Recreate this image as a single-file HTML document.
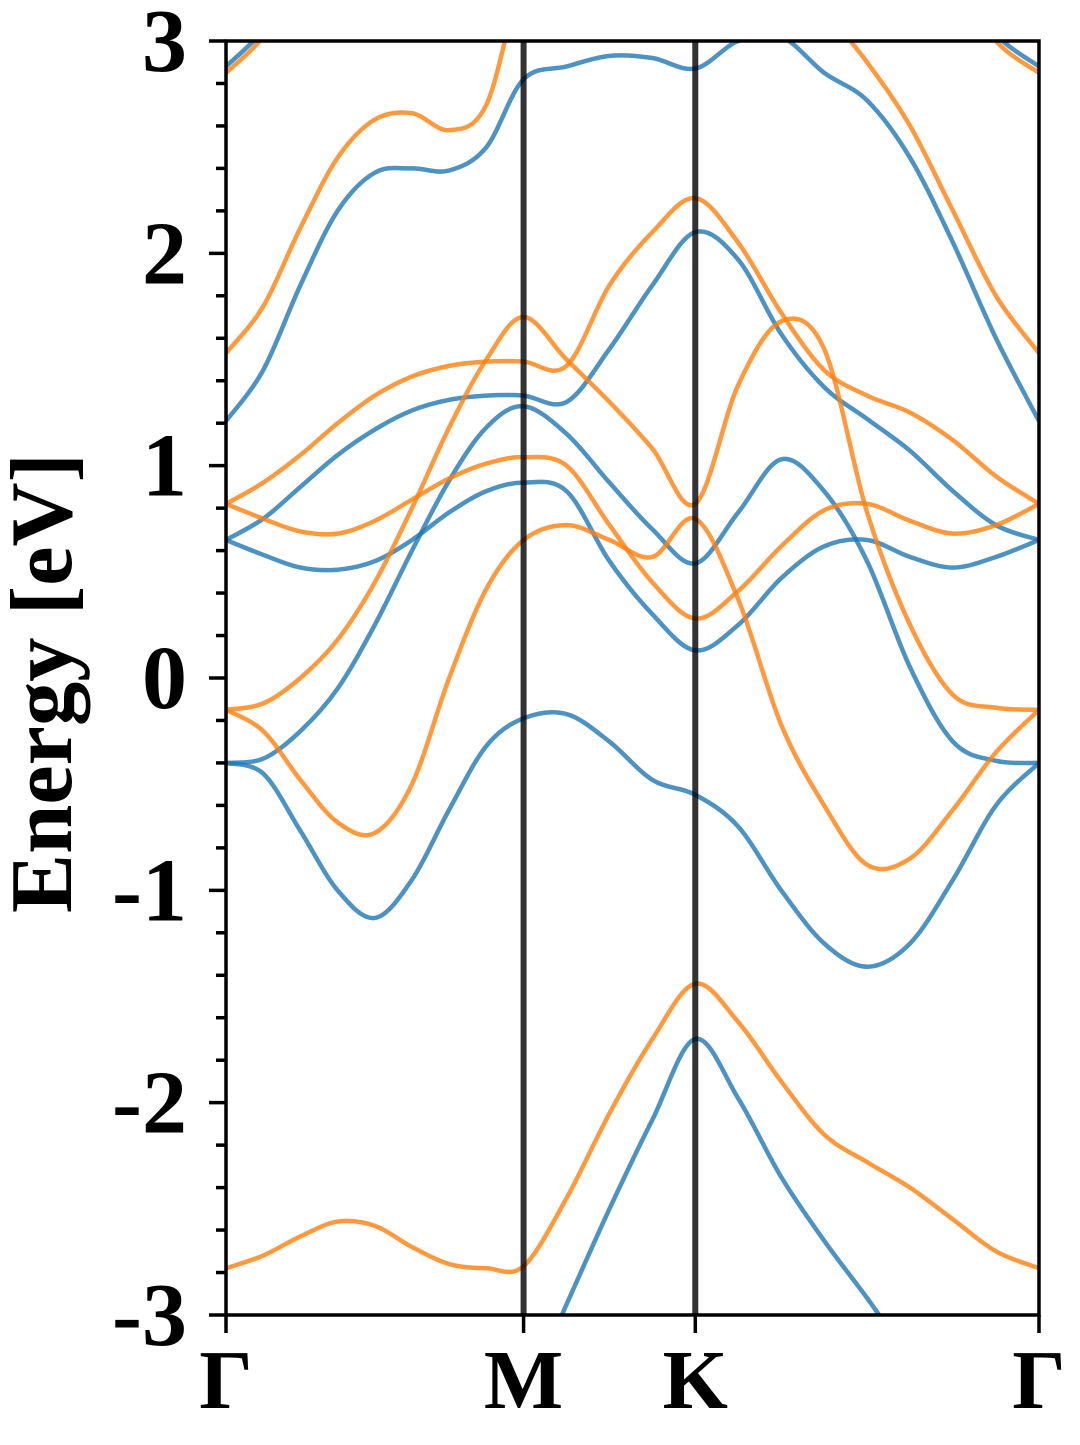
<!DOCTYPE html>
<html><head><meta charset="utf-8"><style>
html,body{margin:0;padding:0;background:#fff;}
svg text{font-family:"Liberation Serif","Times New Roman",serif;font-weight:bold;fill:#000;}
</style></head><body>
<svg id="chart" width="1080" height="1440" viewBox="0 0 1080 1440" xmlns="http://www.w3.org/2000/svg">
<defs><clipPath id="plotclip"><rect x="226" y="41" width="813" height="1274"/></clipPath></defs>
<g id="bands" clip-path="url(#plotclip)"></g>
<g id="axes"></g>
<text transform="translate(71,683) rotate(-90)" text-anchor="middle" font-size="88" textLength="460" lengthAdjust="spacingAndGlyphs" style="font-family:'Liberation Serif','Times New Roman',serif;font-weight:bold">Energy [eV]</text>
</svg>
<script>
const kGrid = [0,0.125,0.25,0.375,0.5,0.625,0.75,0.875,1,1.1443,1.2887,1.433,1.577,1.7213,1.8657,2.01,2.1543,2.2987,2.443,2.5873,2.732];
const kPoints = [0,1,1.577,2.732];
const kLabels = ["Γ","M","K","Γ"];
const yTicks = [-3,-2,-1,0,1,2,3];
const yTickLabels = ["-3","-2","-1","0","1","2","3"];
const blueB1 = [-3.6,-3.6,-3.6,-3.6,-3.6,-3.6,-3.6,-3.5,-3.4,-2.95,-2.5,-2.08,-1.70,-1.98,-2.35,-2.65,-2.92,-3.2,-3.4,-3.5,-3.6];
const blueB2 = [-0.40,-0.45,-0.72,-1.0,-1.13,-0.95,-0.62,-0.32,-0.19,-0.17,-0.30,-0.48,-0.55,-0.70,-1.00,-1.25,-1.36,-1.25,-0.95,-0.60,-0.40];
const blueB3 = [-0.40,-0.38,-0.25,-0.05,0.25,0.60,0.93,1.18,1.28,1.15,0.92,0.70,0.54,0.78,1.03,0.88,0.55,0.05,-0.30,-0.39,-0.40];
const blueB4 = [0.65,0.75,0.90,1.05,1.17,1.26,1.31,1.33,1.33,1.30,1.55,1.85,2.10,1.97,1.62,1.37,1.22,1.07,0.88,0.72,0.65];
const blueB5 = [0.65,0.58,0.52,0.51,0.55,0.65,0.78,0.88,0.92,0.88,0.55,0.30,0.13,0.25,0.47,0.62,0.65,0.57,0.52,0.57,0.65];
const blueB6 = [1.21,1.45,1.85,2.20,2.38,2.40,2.39,2.50,2.82,2.88,2.93,2.92,2.87,3.0,3.02,2.85,2.72,2.45,2.05,1.60,1.21];
const blueB7 = [2.88,3.05,3.3,3.5,3.6,3.6,3.6,3.6,3.6,3.6,3.6,3.6,3.6,3.6,3.6,3.6,3.6,3.5,3.3,3.03,2.88];
const orangeO1 = [-2.78,-2.72,-2.63,-2.56,-2.58,-2.68,-2.76,-2.78,-2.77,-2.45,-2.05,-1.70,-1.44,-1.62,-1.90,-2.15,-2.28,-2.40,-2.55,-2.70,-2.78];
const orangeO2 = [-0.15,-0.25,-0.48,-0.68,-0.73,-0.50,0.0,0.42,0.65,0.72,0.65,0.57,0.75,0.37,-0.22,-0.60,-0.88,-0.85,-0.62,-0.35,-0.15];
const orangeO3 = [-0.15,-0.12,0.0,0.18,0.45,0.80,1.18,1.50,1.70,1.50,1.30,1.08,0.82,1.38,1.68,1.55,0.78,0.25,-0.08,-0.14,-0.15];
const orangeO4 = [0.82,0.92,1.05,1.20,1.33,1.42,1.47,1.49,1.49,1.47,1.85,2.10,2.26,2.05,1.72,1.45,1.33,1.25,1.12,0.95,0.82];
const orangeO5 = [0.82,0.75,0.69,0.68,0.74,0.84,0.94,1.01,1.04,1.00,0.72,0.45,0.28,0.41,0.62,0.79,0.82,0.74,0.68,0.72,0.82];
const orangeO6 = [1.53,1.75,2.12,2.45,2.63,2.66,2.58,2.70,3.3,3.5,3.5,3.5,3.5,3.5,3.4,3.15,2.9,2.6,2.2,1.8,1.53];
const orangeO7 = [2.85,3.02,3.3,3.5,3.6,3.6,3.6,3.6,3.6,3.6,3.6,3.6,3.6,3.6,3.6,3.6,3.6,3.5,3.3,3.0,2.85];
const blueBands = [blueB1,blueB2,blueB3,blueB4,blueB5,blueB6,blueB7];
const orangeBands = [orangeO1,orangeO2,orangeO3,orangeO4,orangeO5,orangeO6,orangeO7];

const X0=226,X1=1039,Y0=1315,Y1=41;
const kMax = kPoints[kPoints.length-1];
const FONT="font-family:'Liberation Serif','Times New Roman',serif;font-weight:bold";
function xs(k){return X0+(k/kMax)*(X1-X0);}
function ys(e){return Y0-(e+3)/6*(Y0-Y1);}
const NS="http://www.w3.org/2000/svg";
function mk(tag,attrs,parent){const el=document.createElementNS(NS,tag);for(const a in attrs)el.setAttribute(a,attrs[a]);parent.appendChild(el);return el;}
function pathFor(vals){
  const p=vals.map((v,i)=>[xs(kGrid[i]),ys(v)]);
  let d="M"+p[0][0].toFixed(2)+","+p[0][1].toFixed(2);
  for(let i=0;i<p.length-1;i++){
    const p0=p[Math.max(0,i-1)],p1=p[i],p2=p[i+1],p3=p[Math.min(p.length-1,i+2)];
    const c1x=p1[0]+(p2[0]-p0[0])/6,c1y=p1[1]+(p2[1]-p0[1])/6;
    const c2x=p2[0]-(p3[0]-p1[0])/6,c2y=p2[1]-(p3[1]-p1[1])/6;
    d+=" C"+c1x.toFixed(2)+","+c1y.toFixed(2)+" "+c2x.toFixed(2)+","+c2y.toFixed(2)+" "+p2[0].toFixed(2)+","+p2[1].toFixed(2);
  }
  return d;
}
const gB=document.getElementById("bands");
blueBands.forEach((b,i)=>{
  const el=mk("path",{d:pathFor(b),fill:"none",stroke:"#1f77b4","stroke-opacity":"0.8","stroke-width":"4.5","stroke-linejoin":"round"},gB);
  
  
});
orangeBands.forEach((b,i)=>{
  const el=mk("path",{d:pathFor(b),fill:"none",stroke:"#ff7f0e","stroke-opacity":"0.8","stroke-width":"4.5","stroke-linejoin":"round"},gB);
  
  
});
const gA=document.getElementById("axes");
kPoints.forEach((k,i)=>{
  const x=xs(k);
  if(i>0&&i<kPoints.length-1){
    const v=mk("line",{x1:x,y1:Y1,x2:x,y2:Y0,stroke:"#000","stroke-opacity":"0.8","stroke-width":"6"},gA);
    
    
  }
  const t=mk("line",{x1:x,y1:Y0,x2:x,y2:Y0+18,stroke:"#000","stroke-width":"3.5"},gA);
  
  
  const lb=mk("text",{x:x,y:1408,"text-anchor":"middle","font-size":"84",style:FONT},gA);
  lb.textContent=kLabels[i];
  
  
});
for(let e=-3;e<=3.0001;e+=0.2){
  const y=ys(e);const major=Math.abs(e-Math.round(e))<1e-6;
  const t=mk("line",{x1:X0-(major?17:10),y1:y,x2:X0,y2:y,stroke:"#000","stroke-width":"3.5"},gA);
  
  
}
yTicks.forEach((v,i)=>{
  const lb=mk("text",{x:187,y:ys(v)+30,"text-anchor":"end","font-size":"90",style:FONT},gA);
  lb.textContent=yTickLabels[i];
  
  
});
const fr=mk("rect",{x:X0,y:Y1,width:X1-X0,height:Y0-Y1,fill:"none",stroke:"#000","stroke-width":"3.5"},gA);


</script>
</body></html>
